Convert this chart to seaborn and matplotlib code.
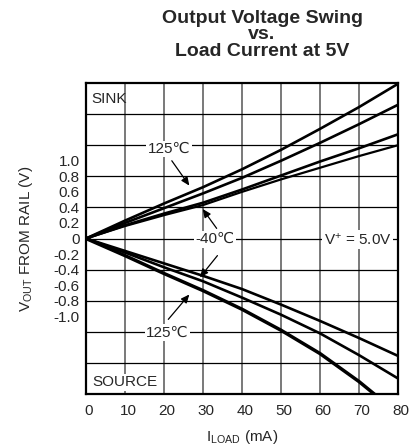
import numpy as np
import pandas as pd
import seaborn as sns
import matplotlib
matplotlib.use('Agg')
import matplotlib.pyplot as plt
from matplotlib.transforms import ScaledTranslation

sns.set_style('white')
plt.rcParams['font.family'] = ['Liberation Sans', 'DejaVu Sans']
plt.rcParams['mathtext.fontset'] = 'custom'
plt.rcParams['mathtext.rm'] = 'Liberation Sans'
plt.rcParams['mathtext.it'] = 'Liberation Sans:italic'

# Load current (mA)
load_ma = [0, 10, 20, 30, 40, 50, 60, 70, 80]

# Sink curves, output voltage from rail (V)
sink_125 = [0, 0.23, 0.45, 0.66, 0.89, 1.14, 1.41, 1.69, 1.99]
sink_85  = [0, 0.20, 0.39, 0.58, 0.78, 1.00, 1.23, 1.47, 1.72]
sink_25  = [0, 0.17, 0.32, 0.46, 0.63, 0.81, 0.99, 1.16, 1.34]
sink_m40 = [0, 0.16, 0.30, 0.43, 0.60, 0.76, 0.91, 1.06, 1.20]

# Source curves
source_m40 = [0, -0.16, -0.32, -0.48, -0.65, -0.85, -1.06, -1.28, -1.51]
source_25  = [0, -0.18, -0.37, -0.55, -0.76, -0.98, -1.22, -1.50, -1.80]
source_125 = [0, -0.22, -0.45, -0.67, -0.91, -1.18, -1.48, -1.84, -2.25]

ytick_vals = [1.0, 0.8, 0.6, 0.4, 0.2, 0, -0.2, -0.4, -0.6, -0.8, -1.0]
ytick_labels = ['1.0', '0.8', '0.6', '0.4', '0.2', '0', '-0.2', '-0.4', '-0.6', '-0.8', '-1.0']
ygrid_vals = [-1.6, -1.2, -0.8, -0.4, 0, 0.4, 0.8, 1.2, 1.6]

title_lines = ['Output Voltage Swing', 'vs.', 'Load Current at 5V']

fig = plt.figure(figsize=(4.13, 4.46), dpi=100)
ax = fig.add_axes([86/413, 1 - 394/446, 312/413, 311/446])

curves = [(sink_125, 1.9), (sink_85, 1.9), (sink_25, 1.9), (sink_m40, 1.6),
          (source_m40, 1.9), (source_25, 1.9), (source_125, 2.5)]
for vals, lw in curves:
    sns.lineplot(x=load_ma, y=vals, ax=ax, color='black', linewidth=lw, zorder=3)

ax.set_xlim(0, 80)
ax.set_ylim(-2, 2)
ax.set_xticks(range(0, 81, 10))
ax.set_yticks(ytick_vals)
ax.set_yticklabels(ytick_labels)
ax.set_yticks(ygrid_vals, minor=True)
ax.yaxis.remove_overlapping_locs = False
ax.tick_params(which='both', length=0, labelsize=11)
ax.tick_params(axis='y', pad=4.5)
ax.tick_params(axis='x', pad=7)
ax.grid(False)
ax.xaxis.grid(True, which='major', color='#6e6e6e', linewidth=1.3)
ax.yaxis.grid(True, which='minor', color='black', linewidth=0.9)
ax.set_axisbelow(True)
for s in ax.spines.values():
    s.set_visible(True)
    s.set_color('black')
    s.set_linewidth(1.6)

for lab in ax.get_xticklabels():
    lab.set_transform(lab.get_transform() + ScaledTranslation(3/100, 0, fig.dpi_scale_trans))

ax.set_xlabel(r'I$_{\rm LOAD}$ (mA)', fontsize=11)
ax.set_ylabel(r'V$_{\rm OUT}$ FROM RAIL (V)', fontsize=11)
ax.xaxis.set_label_coords(0.5, -0.108)
ax.yaxis.set_label_coords(-0.162, 0.5)

# Title, one text per line
for line, base_px in zip(title_lines, [23.0, 38.8, 56.5]):
    fig.text(262/413, 1 - base_px/446, line, ha='center', va='baseline',
             fontsize=14, fontweight='bold')

white = dict(facecolor='white', edgecolor='none', pad=1.0)
ax.text(1.4, 1.79, 'SINK', ha='left', va='center', fontsize=11)
ax.text(1.6, -1.85, 'SOURCE', ha='left', va='center', fontsize=11, bbox=white, zorder=4)
ax.text(21.3, 1.15, '125\u2103', ha='center', va='center', fontsize=11, bbox=white, zorder=4)
ax.text(33.0, -0.01, '-40\u2103', ha='center', va='center', fontsize=11, bbox=white, zorder=4)
ax.text(20.9, -1.21, '125\u2103', ha='center', va='center', fontsize=11, bbox=white, zorder=4)
ax.text(69.6, -0.01, r'V$^{+}$ = 5.0V', ha='center', va='center', fontsize=11, bbox=white, zorder=4)

arrow = dict(arrowstyle='-|>,head_length=0.5,head_width=0.22', color='black',
             lw=0.9, mutation_scale=10, shrinkA=0, shrinkB=0)
ax.annotate('', xy=(26.5, 0.68), xytext=(22.0, 1.0), arrowprops=arrow, zorder=5)
ax.annotate('', xy=(29.9, 0.38), xytext=(33.5, 0.13), arrowprops=arrow, zorder=5)
ax.annotate('', xy=(29.2, -0.50), xytext=(33.7, -0.22), arrowprops=arrow, zorder=5)
ax.annotate('', xy=(26.5, -0.72), xytext=(21.1, -1.04), arrowprops=arrow, zorder=5)

fig.savefig('out.png', dpi=100)
